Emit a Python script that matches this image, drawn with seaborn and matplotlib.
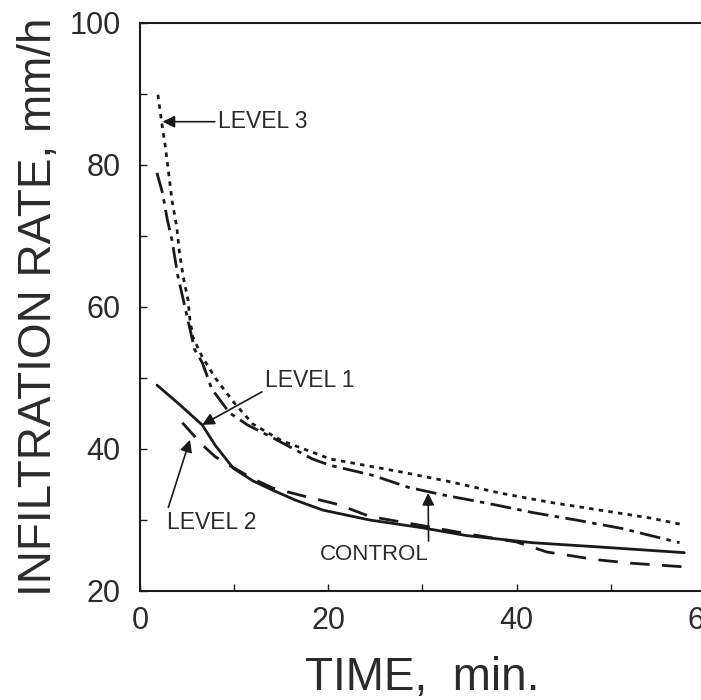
import matplotlib
matplotlib.use("Agg")
import matplotlib.pyplot as plt
import seaborn as sns
import pandas as pd
from matplotlib.ticker import MultipleLocator

# ---- data ----
level3_x = [1.9, 2.3, 2.7, 3.0, 3.4, 3.9, 4.2, 4.6, 5.1, 5.3, 5.6, 6.6, 8.0, 10.0, 12.0, 15.0, 20.2, 27.6, 32.9, 38.2, 43.5, 48.8, 54.1, 57.8]
level3_y = [89.9, 86.0, 82.5, 79.3, 75.0, 71.3, 67.6, 64.2, 61.0, 58.2, 55.8, 53.0, 50.0, 46.5, 43.5, 41.2, 38.6, 36.8, 35.4, 33.8, 32.5, 31.4, 30.3, 29.3]

control_x = [1.8, 2.4, 2.9, 3.4, 4.0, 4.6, 5.2, 5.8, 6.6, 7.1, 7.6, 9.5, 11.4, 14.5, 18.3, 20.2, 24.7, 28.5, 32.3, 37.1, 41.9, 46.3, 51.2, 57.3]
control_y = [78.9, 76.0, 72.3, 69.4, 64.5, 61.0, 57.5, 54.0, 52.2, 50.4, 48.5, 45.1, 43.4, 41.3, 38.6, 37.7, 36.3, 34.6, 33.5, 32.3, 31.0, 30.0, 28.8, 26.8]

level1_x = [1.8, 4.0, 6.6, 8.0, 9.9, 12.0, 14.1, 16.5, 19.4, 24.4, 30.0, 34.7, 41.7, 48.8, 57.8]
level1_y = [49.0, 46.5, 43.4, 40.5, 37.3, 35.5, 34.2, 32.8, 31.4, 30.0, 28.9, 27.8, 26.8, 26.2, 25.4]

level2_x = [4.5, 6.6, 8.0, 9.5, 12.0, 14.1, 17.0, 21.0, 24.4, 30.0, 35.0, 40.0, 43.2, 48.5, 52.3, 57.8]
level2_y = [43.7, 40.6, 38.9, 37.7, 35.8, 34.5, 33.5, 32.2, 30.5, 29.2, 28.0, 26.9, 25.5, 24.4, 23.9, 23.4]

x_ticks = [0, 20, 40, 60]
y_ticks = [20, 40, 60, 80, 100]

sns.set_theme(style="white")
plt.rcParams['font.family'] = ['Liberation Sans', 'DejaVu Sans']
ink = "#1a1a1a"
txt = "#2b2b2b"

fig = plt.figure(figsize=(7.01, 7.00), dpi=100)
fig.patch.set_facecolor("white")
ax = fig.add_axes([140 / 701, 109 / 700, 565 / 701, 568 / 700])
ax.set_facecolor("white")

lw = 2.0
sns.lineplot(x=level3_x, y=level3_y, ax=ax, color=ink, lw=lw, linestyle=(0, (1.6, 1.9)))
sns.lineplot(x=control_x, y=control_y, ax=ax, color=ink, lw=lw, linestyle=(0, (7.5, 2.3, 1.6, 2.3)))
sns.lineplot(x=level1_x, y=level1_y, ax=ax, color=ink, lw=lw, linestyle="-")
sns.lineplot(x=level2_x, y=level2_y, ax=ax, color=ink, lw=lw, linestyle=(0, (7.0, 4.5)))

ax.set_xlim(0, 60)
ax.set_ylim(20, 100)
ax.set_xticks(x_ticks)
ax.set_yticks(y_ticks)
ax.xaxis.set_minor_locator(MultipleLocator(10))
ax.yaxis.set_minor_locator(MultipleLocator(10))
ax.tick_params(axis="both", which="both", direction="in", length=5, width=1.0,
               color=ink, labelsize=22, labelcolor=txt)
ax.tick_params(axis="x", which="both", bottom=True, top=False, pad=11)
ax.tick_params(axis="y", which="both", left=True, right=False, pad=14)

for side in ["left", "bottom", "top", "right"]:
    ax.spines[side].set_visible(True)
    ax.spines[side].set_color(ink)
    ax.spines[side].set_linewidth(1.5)

ax.set_xlabel("TIME,  min.", fontsize=33, color=txt, labelpad=14)
ax.set_ylabel("INFILTRATION RATE, mm/h", fontsize=33, color=txt, labelpad=6)

arrow = dict(arrowstyle="-|>", color=ink, lw=1.2, mutation_scale=18, shrinkA=0, shrinkB=0)
fs = 16.5
ax.annotate("LEVEL 3", xy=(2.4, 86.1), xytext=(8.3, 86.1), fontsize=fs, color=txt,
            va="center", ha="left", arrowprops=arrow)
ax.annotate("LEVEL 1", xy=(6.6, 43.4), xytext=(13.3, 49.6), fontsize=fs, color=txt,
            va="center", ha="left",
            arrowprops=dict(arrow, relpos=(0, 0.1)))
ax.annotate("LEVEL 2", xy=(5.3, 41.3), xytext=(2.9, 29.7), fontsize=fs, color=txt,
            va="center", ha="left",
            arrowprops=dict(arrow, relpos=(0.0, 1.0)))
ax.annotate("CONTROL", xy=(30.6, 33.8), xytext=(19.1, 25.1), fontsize=16, color=txt,
            va="center", ha="left",
            arrowprops=dict(arrow, relpos=(1.0, 0.7)))

fig.savefig("out.png", dpi=100, facecolor="white")
